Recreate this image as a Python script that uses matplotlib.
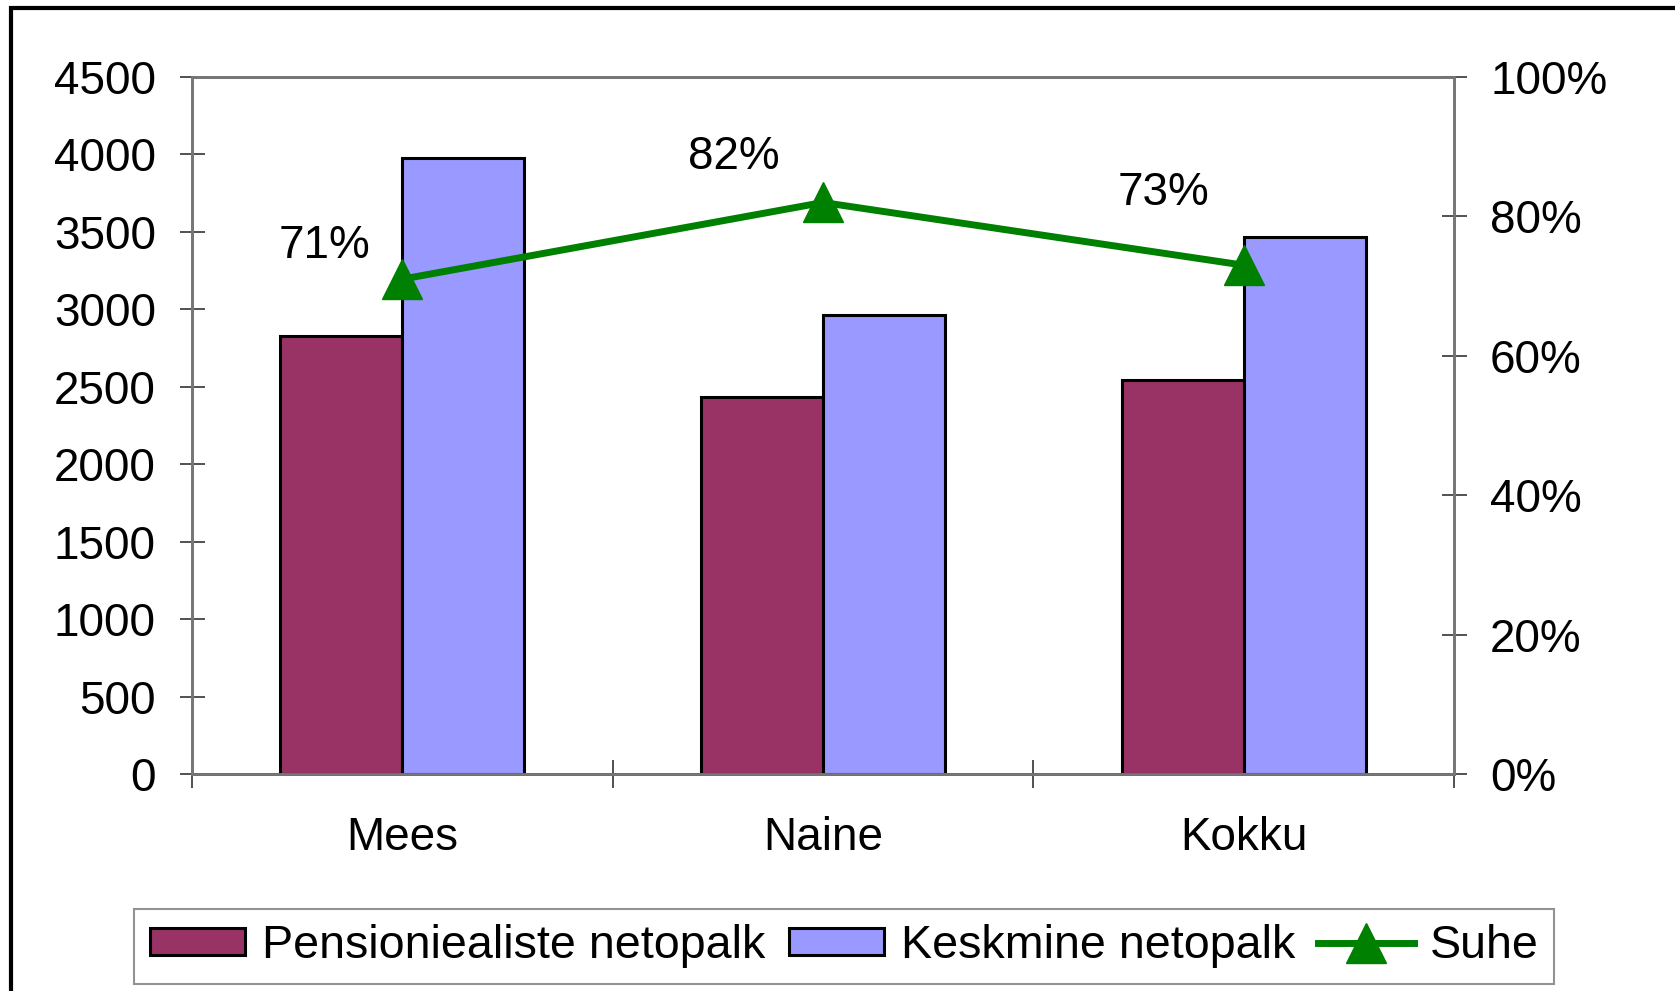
import matplotlib.pyplot as plt
from matplotlib.patches import Rectangle
import numpy as np

categories = ["Mees", "Naine", "Kokku"]
pension = [2830, 2433, 2543]
average = [3975, 2963, 3467]
ratio = [0.71, 0.82, 0.73]
ratio_labels = ["71%", "82%", "73%"]

plt.rcParams['font.family'] = ['Liberation Sans', 'DejaVu Sans']
fs = 33

fig = plt.figure(figsize=(16.75, 9.91), dpi=100)
ax = fig.add_axes([192 / 1675, 1 - 774 / 991, (1454 - 192) / 1675, (774 - 77) / 991])
ax2 = ax.twinx()

x = np.arange(len(categories))
w = 0.29
b1 = ax.bar(x - w / 2, pension, w, color='#993366', edgecolor='black', linewidth=2.2,
            label='Pensioniealiste netopalk', zorder=2)
b2 = ax.bar(x + w / 2, average, w, color='#9999FF', edgecolor='black', linewidth=2.2,
            label='Keskmine netopalk', zorder=2)

ln, = ax2.plot(x, ratio, color='#008000', lw=5, marker='^', markersize=29, label='Suhe')

# data labels above-left of the points
offsets = [(-56, 24), (-64, 33), (-58, 52)]
for xi, r, lab, off in zip(x, ratio, ratio_labels, offsets):
    ax2.annotate(lab, (xi, r), xytext=off, textcoords='offset points',
                 ha='center', va='center', fontsize=fs)

ax.set_xlim(-0.5, 2.5)
ax.set_ylim(0, 4500)
ax.set_yticks(range(0, 4501, 500))
ax2.set_ylim(0, 1)
ax2.set_yticks([0, 0.2, 0.4, 0.6, 0.8, 1.0])
ax2.set_yticklabels(['0%', '20%', '40%', '60%', '80%', '100%'])

# category boundaries as major ticks, names on minor ticks
ax.set_xticks([-0.5, 0.5, 1.5, 2.5])
ax.set_xticklabels([])
ax.set_xticks(x, minor=True)
ax.set_xticklabels(categories, minor=True)
ax.tick_params(axis='x', which='minor', length=0, pad=30, labelsize=fs)
ax.tick_params(axis='x', which='major', direction='inout', length=20, width=1.2, color='#333333')
ax.tick_params(axis='y', direction='inout', length=18, width=1.2, color='#333333', labelsize=fs, pad=17)
ax2.tick_params(axis='y', direction='inout', length=18, width=1.2, color='#333333', labelsize=fs, pad=17)

for a in (ax, ax2):
    for s in a.spines.values():
        s.set_color('#777777')
        s.set_linewidth(2)
ax.spines['bottom'].set_color('#333333')

leg = ax.legend(handles=[b1, b2, ln], loc='center', bbox_to_anchor=(0.517, -0.247), ncol=3,
                fontsize=33.6, frameon=True, fancybox=False, edgecolor='#777777',
                handlelength=2.05, handleheight=0.5, handletextpad=0.35, columnspacing=0.5,
                borderpad=0.33, borderaxespad=0)
leg.get_frame().set_linewidth(1.5)

# outer chart border
fig.patches.append(Rectangle((11 / 1675, -0.1), 1.2, 1.1 - 8 / 991, transform=fig.transFigure,
                             fill=False, edgecolor='black', linewidth=3, figure=fig))

fig.savefig('out.png', dpi=100)
